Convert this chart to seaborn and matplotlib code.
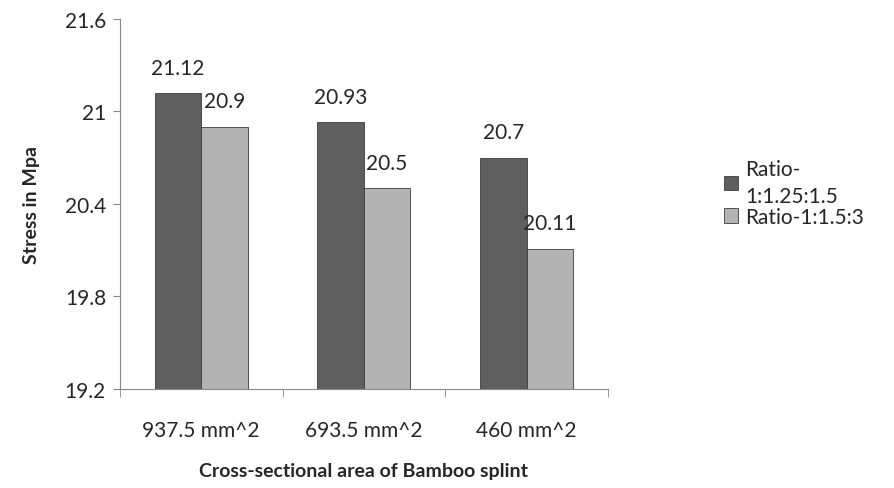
import pandas as pd
import matplotlib
matplotlib.use("Agg")
from matplotlib import pyplot as plt
from matplotlib.ticker import FixedLocator
import seaborn as sns

# chart data
areas = ["937.5 mm^2", "693.5 mm^2", "460 mm^2"]
ratio_a = [21.12, 20.93, 20.7]
ratio_b = [20.9, 20.5, 20.11]
series_names = ["Ratio-\n1:1.25:1.5", "Ratio-1:1.5:3"]
y_ticks = [19.2, 19.8, 20.4, 21.0, 21.6]
y_tick_labels = ["19.2", "19.8", "20.4", "21", "21.6"]

df = pd.DataFrame({
    "area": areas * 2,
    "stress": ratio_a + ratio_b,
    "series": [series_names[0]] * 3 + [series_names[1]] * 3,
})

sns.set_style("white")
plt.rcParams['font.family'] = ['Lato', 'DejaVu Sans']

fig = plt.figure(figsize=(8.94, 4.89), dpi=100)
ax = fig.add_axes([0.134, 0.2025, 0.546, 0.757])

sns.barplot(data=df, x="area", y="stress", hue="series", ax=ax,
            palette=["#5f5f5f", "#b3b3b3"], width=0.57,
            edgecolor="#3c3c3c", linewidth=0.6, saturation=1)

ax.set_ylim(19.2, 21.6)
ax.set_xlim(-0.5, 2.5)
ax.set_yticks(y_ticks)
ax.set_yticklabels(y_tick_labels, fontsize=15)
ax.tick_params(axis='y', length=5, color='#888888', direction='out', left=True, pad=5)
ax.tick_params(axis='x', which='major', length=0, labelsize=15, pad=22)
ax.xaxis.set_minor_locator(FixedLocator([-0.5, 0.5, 1.5, 2.5]))
ax.tick_params(axis='x', which='minor', length=6, color='#888888', direction='out', bottom=True)

for s in ['top', 'right']:
    ax.spines[s].set_visible(False)
for s in ['left', 'bottom']:
    ax.spines[s].set_color('#888888')
    ax.spines[s].set_linewidth(0.8)

for cont, vals in zip(ax.containers, [ratio_a, ratio_b]):
    ax.bar_label(cont, labels=[f"{v:g}" for v in vals], fontsize=15, padding=11)

ax.set_xlabel("Cross-sectional area of Bamboo splint", fontsize=14, fontweight='bold', labelpad=16)
ax.set_ylabel("Stress in Mpa", fontsize=14, fontweight='bold', labelpad=18)

handles, labels = ax.get_legend_handles_labels()
leg = ax.legend(handles, labels, loc='center left', bbox_to_anchor=(1.22, 0.53), frameon=False,
                fontsize=15, handlelength=0.7, handleheight=0.7, handletextpad=0.35,
                labelspacing=0.05, borderaxespad=0)
for t in leg.get_texts():
    t.set_linespacing(1.45)

fig.savefig("out.png", dpi=100)
